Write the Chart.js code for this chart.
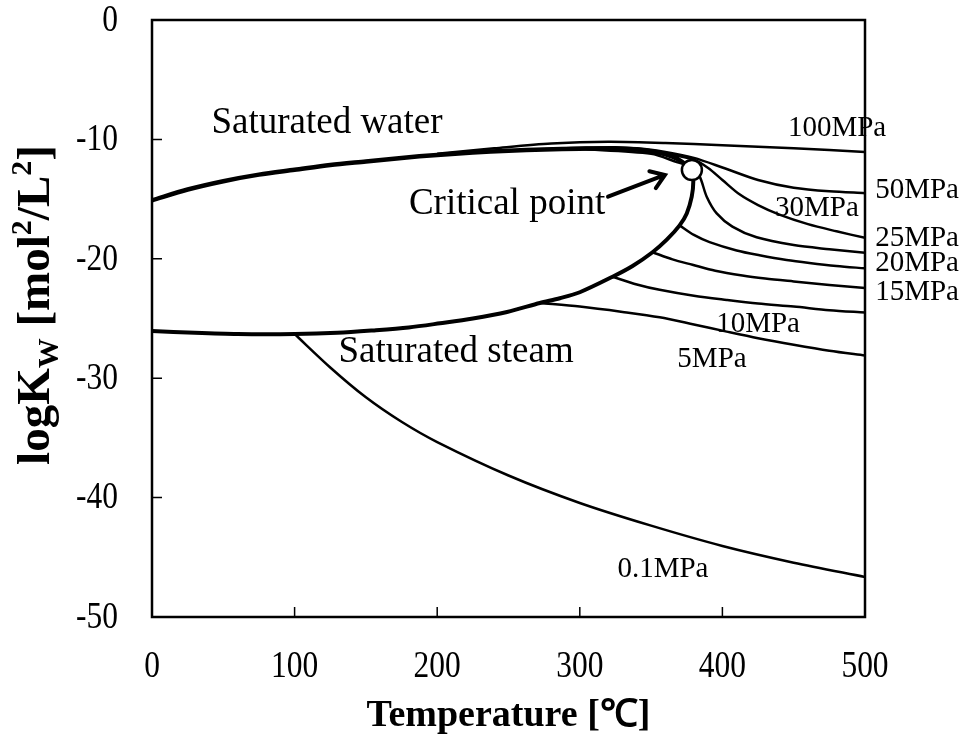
<!DOCTYPE html>
<html>
<head>
<meta charset="utf-8">
<title>logKw vs temperature</title>
<script src="https://cdn.jsdelivr.net/npm/chart.js@4.4.1/dist/chart.umd.min.js"></script>
<style>
  html, body { margin: 0; padding: 0; background: #fff; }
  #wrap { width: 963px; height: 738px; }
</style>
</head>
<body>
<div id="wrap"><canvas id="kwChart" width="963" height="738"></canvas></div>
<script>
// saturation curves (temperature in degC, logKw)
const satWaterT = [0, 25, 50, 75, 100, 125, 150, 175, 200, 225, 250, 275, 300, 325, 340, 355, 365, 372, 378.6];
const satWaterK = [-15.1, -14.2, -13.5, -12.95, -12.55, -12.15, -11.85, -11.55, -11.3, -11.1, -10.95, -10.85, -10.78, -10.75, -10.85, -11.1, -11.45, -11.9, -12.56];

const satSteamT = [0, 30, 60, 100, 130, 155, 180, 202, 225, 249, 272, 286, 300, 323, 337, 351, 361, 370, 375, 378.5, 379.6, 378.6];
const satSteamK = [-26.05, -26.2, -26.3, -26.3, -26.2, -26.0, -25.75, -25.4, -25.0, -24.45, -23.7, -23.3, -22.8, -21.5, -20.6, -19.45, -18.4, -17.2, -16.2, -14.8, -13.5, -12.56];

// isobars
const p100T = [200, 240, 280, 320, 360, 400, 450, 500];
const p100K = [-11.2, -10.75, -10.35, -10.2, -10.3, -10.5, -10.75, -11.05];

const p50T = [250, 300, 340, 360, 380, 400, 425, 450, 475, 500];
const p50K = [-10.95, -10.7, -10.75, -11.05, -11.55, -12.35, -13.4, -14.05, -14.35, -14.5];

const p30T = [300, 340, 365, 380, 390, 400, 412, 425, 440, 460, 480, 500];
const p30K = [-10.8, -10.9, -11.3, -11.7, -12.4, -13.4, -14.6, -15.5, -16.3, -17.1, -17.7, -18.25];

const p25T = [300, 350, 368, 378, 384, 389, 396, 407, 424, 450, 475, 500];
const p25K = [-10.8, -11.2, -11.9, -12.3, -13.1, -14.8, -16.2, -17.3, -18.2, -18.85, -19.2, -19.5];

const p20T = [370, 380, 391, 410, 426, 445, 461, 480, 500];
const p20K = [-17.2, -18.0, -18.6, -19.3, -19.7, -20.1, -20.35, -20.6, -20.8];

const p15T = [351, 365, 379, 395, 414, 430, 450, 475, 500];
const p15K = [-19.45, -20.05, -20.5, -21.0, -21.4, -21.65, -21.9, -22.2, -22.45];

const p10T = [323, 340, 356, 380, 403, 425, 450, 475, 500];
const p10K = [-21.5, -22.15, -22.6, -23.1, -23.45, -23.75, -24.0, -24.3, -24.5];

const p5T = [272, 300, 330, 356, 380, 403, 425, 450, 475, 500];
const p5K = [-23.7, -24.0, -24.45, -24.9, -25.5, -26.1, -26.65, -27.2, -27.7, -28.1];

const p01T = [100, 125, 150, 175, 200, 250, 300, 350, 400, 450, 500];
const p01K = [-26.3, -29.1, -31.6, -33.65, -35.35, -38.15, -40.45, -42.35, -44.05, -45.45, -46.65];

const critT = [378.6];
const critK = [-12.56];

// axis ticks
const xTicks = [0, 100, 200, 300, 400, 500];
const yTicks = [0, -10, -20, -30, -40, -50];

// text placed in data units
const notes = [
  { text: 'Saturated water', x: 122.7, y: -8.63, size: 37 },
  { text: 'Critical point', x: 249, y: -15.4, size: 37 },
  { text: 'Saturated steam', x: 213.2, y: -27.8, size: 37 },
  { text: '100MPa', x: 480.4, y: -9.05, size: 29 },
  { text: '50MPa', x: 536.5, y: -14.3, size: 29 },
  { text: '30MPa', x: 466.3, y: -15.8, size: 29 },
  { text: '25MPa', x: 536.5, y: -18.25, size: 29 },
  { text: '20MPa', x: 536.5, y: -20.35, size: 29 },
  { text: '15MPa', x: 536.5, y: -22.8, size: 29 },
  { text: '10MPa', x: 425, y: -25.5, size: 29 },
  { text: '5MPa', x: 392.7, y: -28.4, size: 29 },
  { text: '0.1MPa', x: 358.3, y: -46.0, size: 29 }
];
const arrowFrom = [319.8, -14.8];
const arrowTo = [359.7, -12.98];

const SERIF = '"Liberation Serif", "Times New Roman", serif';

function pts(ts, ks) {
  return ts.map((t, i) => ({ x: t, y: ks[i] }));
}

function curve(ts, ks, width) {
  return {
    data: pts(ts, ks),
    showLine: true,
    borderColor: '#000',
    borderWidth: width,
    pointRadius: 0,
    tension: 0.3,
    fill: false
  };
}

// narrow tick numbers
function tickText(ctx, text, x, y, align) {
  ctx.save();
  ctx.translate(x, y);
  ctx.scale(0.85, 1);
  ctx.textAlign = align;
  ctx.textBaseline = 'middle';
  ctx.font = '37px ' + SERIF;
  ctx.fillText(text, 0, 0);
  ctx.restore();
}

const decorations = {
  id: 'decorations',
  afterDatasetsDraw(chart) {
    const ctx = chart.ctx;
    const a = chart.chartArea;
    const xs = chart.scales.x;
    const ys = chart.scales.y;
    ctx.save();
    ctx.strokeStyle = '#000';
    ctx.fillStyle = '#000';

    // frame
    ctx.lineWidth = 2.5;
    ctx.strokeRect(a.left, a.top, a.right - a.left, a.bottom - a.top);

    // inward tick marks
    ctx.lineWidth = 1.5;
    ctx.beginPath();
    xTicks.slice(1, -1).forEach(v => {
      const px = xs.getPixelForValue(v);
      ctx.moveTo(px, a.bottom);
      ctx.lineTo(px, a.bottom - 10);
    });
    yTicks.slice(1, -1).forEach(v => {
      const py = ys.getPixelForValue(v);
      ctx.moveTo(a.left, py);
      ctx.lineTo(a.left + 10, py);
    });
    ctx.stroke();

    // tick labels
    xTicks.forEach(v => tickText(ctx, String(v), xs.getPixelForValue(v), a.bottom + 50, 'center'));
    yTicks.forEach(v => tickText(ctx, String(v), a.left - 34, ys.getPixelForValue(v) + 1, 'right'));

    // arrow to the critical point
    const x0 = xs.getPixelForValue(arrowFrom[0]), y0 = ys.getPixelForValue(arrowFrom[1]);
    const x1 = xs.getPixelForValue(arrowTo[0]), y1 = ys.getPixelForValue(arrowTo[1]);
    const ang = Math.atan2(y1 - y0, x1 - x0);
    ctx.lineWidth = 4;
    ctx.lineCap = 'round';
    ctx.beginPath();
    ctx.moveTo(x0, y0);
    ctx.lineTo(x1, y1);
    ctx.moveTo(x1 - 16 * Math.cos(ang - 0.6), y1 - 16 * Math.sin(ang - 0.6));
    ctx.lineTo(x1, y1);
    ctx.lineTo(x1 - 16 * Math.cos(ang + 0.6), y1 - 16 * Math.sin(ang + 0.6));
    ctx.stroke();

    // labels
    ctx.textAlign = 'center';
    ctx.textBaseline = 'middle';
    notes.forEach(n => {
      ctx.font = n.size + 'px ' + SERIF;
      ctx.fillText(n.text, xs.getPixelForValue(n.x), ys.getPixelForValue(n.y));
    });

    // x axis title
    ctx.font = 'bold 38px ' + SERIF;
    ctx.fillText('Temperature [\u2103]', (a.left + a.right) / 2, 716);

    // y axis title with sub- and superscripts
    const big = 'bold 47px ' + SERIF;
    const small = 'bold 30px ' + SERIF;
    const runs = [
      { t: 'logK', f: big, dy: 0 },
      { t: 'W', f: small, dy: 9 },
      { t: ' [mol', f: big, dy: 0 },
      { t: '2', f: small, dy: -18 },
      { t: '/L', f: big, dy: 0 },
      { t: '2', f: small, dy: -18 },
      { t: ']', f: big, dy: 0 }
    ];
    let total = 0;
    runs.forEach(r => { ctx.font = r.f; r.w = ctx.measureText(r.t).width; total += r.w; });
    ctx.translate(33, 305);
    ctx.rotate(-Math.PI / 2);
    ctx.textAlign = 'left';
    ctx.textBaseline = 'alphabetic';
    let cx = -total / 2;
    runs.forEach(r => {
      ctx.font = r.f;
      ctx.fillText(r.t, cx, 16 + r.dy);
      cx += r.w;
    });
    ctx.restore();
  }
};

new Chart(document.getElementById('kwChart'), {
  type: 'scatter',
  data: {
    datasets: [
      {
        data: pts(critT, critK),
        pointRadius: 10,
        pointBackgroundColor: '#fff',
        pointBorderColor: '#000',
        pointBorderWidth: 2.5,
        showLine: false,
        order: -1
      },
      curve(satWaterT, satWaterK, 4.5),
      curve(satSteamT, satSteamK, 4),
      curve(p100T, p100K, 2.5),
      curve(p50T, p50K, 2.5),
      curve(p30T, p30K, 2.5),
      curve(p25T, p25K, 2.5),
      curve(p20T, p20K, 2.5),
      curve(p15T, p15K, 2.5),
      curve(p10T, p10K, 2.5),
      curve(p5T, p5K, 2.5),
      curve(p01T, p01K, 2.5)
    ]
  },
  options: {
    responsive: false,
    animation: false,
    events: [],
    layout: { padding: { top: 20, right: 98, left: 0, bottom: 0 } },
    plugins: {
      legend: { display: false },
      tooltip: { enabled: false }
    },
    scales: {
      x: {
        type: 'linear',
        min: 0,
        max: 500,
        afterFit: s => { s.height = 121; s.paddingLeft = 0; s.paddingRight = 0; },
        afterBuildTicks: s => { s.ticks = xTicks.map(v => ({ value: v })); },
        grid: { display: false },
        border: { display: false },
        ticks: { display: false }
      },
      y: {
        type: 'linear',
        min: -50,
        max: 0,
        afterFit: s => { s.width = 152; s.paddingTop = 0; s.paddingBottom = 0; },
        afterBuildTicks: s => { s.ticks = yTicks.map(v => ({ value: v })); },
        grid: { display: false },
        border: { display: false },
        ticks: { display: false }
      }
    }
  },
  plugins: [decorations]
});
</script>
</body>
</html>
